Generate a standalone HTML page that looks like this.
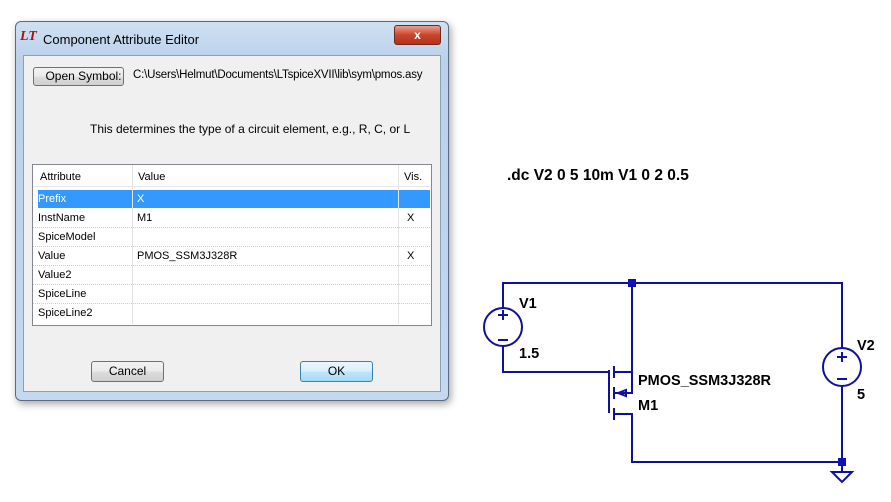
<!DOCTYPE html>
<html><head><style>
body{margin:0;width:891px;height:502px;background:#fff;position:relative;overflow:hidden;font-family:"Liberation Sans",sans-serif;}
.a{position:absolute}
.dlg{left:15px;top:21px;width:432px;height:378px;background:linear-gradient(#cfe0f2,#b9d1ea 40px,#c4d8ee);border:1px solid #5a6a80;border-radius:6px;box-shadow:2px 3px 8px rgba(0,0,0,.35)}
.cl{left:23px;top:55px;width:416px;height:335px;background:#f0f0f0;border:1px solid #8aa0b8}
.btn{border:1px solid #707070;border-radius:3px;background:linear-gradient(#f2f2f2,#ebebeb 50%,#dddddd 51%,#cfcfcf);font-size:12px;text-align:center;color:#000}
.t{font-size:11px;color:#000;white-space:nowrap}
.row{position:absolute;left:0;width:397px;height:19px;border-bottom:1px dotted #ccc}
</style></head><body>
<div class="a dlg"></div>
<div class="a" style="left:20px;top:29px;font:italic bold 14px 'Liberation Serif',serif;color:#b01010">LT</div>
<div class="a t" style="left:43px;top:32px;font-size:13px">Component Attribute Editor</div>
<div class="a" style="left:394px;top:25px;width:45px;height:18px;border:1px solid #6b2a20;border-radius:3px;background:linear-gradient(#e8a090,#c9462c 50%,#b8301a);color:#fff;font-weight:bold;font-size:12px;text-align:center;line-height:18px">x</div>
<div class="a cl"></div>
<div class="a btn" style="left:33px;top:67px;width:89px;height:17px;line-height:17px">&nbsp;&nbsp;&nbsp;Open Symbol:</div>
<div class="a t" style="left:133px;top:69px;font-size:11.5px;letter-spacing:-0.2px">C:\Users\Helmut\Documents\LTspiceXVII\lib\sym\pmos.asy</div>
<div class="a t" style="left:90px;top:122px;font-size:12px">This determines the type of a circuit element, e.g., R, C, or L</div>
<div class="a" style="left:32px;top:164px;width:398px;height:160px;background:#fff;border:1px solid #828790">
 <div class="row" style="top:0;height:21px;border-bottom:1px solid #e5e5e5"></div>
 <div class="a t" style="left:7px;top:6px">Attribute</div><div class="a t" style="left:105px;top:6px">Value</div><div class="a t" style="left:371px;top:6px">Vis.</div>
 <div class="a" style="left:5px;top:25px;width:392px;height:18px;background:#3399ff"></div>
 <div class="a t" style="left:5px;top:28px;color:#fff">Prefix</div><div class="a t" style="left:104px;top:28px;color:#fff">X</div>
 <div class="row" style="top:43px"></div><div class="a t" style="left:5px;top:47px">InstName</div><div class="a t" style="left:104px;top:47px">M1</div><div class="a t" style="left:374px;top:47px">X</div>
 <div class="row" style="top:62px"></div><div class="a t" style="left:5px;top:66px">SpiceModel</div>
 <div class="row" style="top:81px"></div><div class="a t" style="left:5px;top:85px">Value</div><div class="a t" style="left:104px;top:85px">PMOS_SSM3J328R</div><div class="a t" style="left:374px;top:85px">X</div>
 <div class="row" style="top:100px"></div><div class="a t" style="left:5px;top:104px">Value2</div>
 <div class="row" style="top:119px"></div><div class="a t" style="left:5px;top:123px">SpiceLine</div>
 <div class="row" style="top:138px;border:none"></div><div class="a t" style="left:5px;top:142px">SpiceLine2</div>
 <div class="a" style="left:99px;top:0;width:1px;height:159px;background:#e5e5e5"></div>
 <div class="a" style="left:365px;top:0;width:1px;height:159px;background:#e5e5e5"></div>
</div>
<div class="a btn" style="left:91px;top:361px;width:71px;height:19px;line-height:19px">Cancel</div>
<div class="a btn" style="left:300px;top:361px;width:71px;height:19px;line-height:19px;border-color:#3c7fb1;background:linear-gradient(#eaf6fd,#d9f0fc 50%,#bee6fd 51%,#a7d9f5)">OK</div>

<svg class="a" style="left:0;top:0" width="891" height="502">
<g fill="none" stroke="#1010a0" stroke-width="2">
<polyline points="503,308 503,283 842,283 842,348"/>
<polyline points="842,386 842,462 632,462 632,414 614,414"/>
<polyline points="632,283 632,372 614,372"/>
<polyline points="503,346 503,372 609,372"/>
<line x1="609" y1="370" x2="609" y2="413"/>
<line x1="614" y1="366" x2="614" y2="378"/><line x1="614" y1="387" x2="614" y2="399"/><line x1="614" y1="408" x2="614" y2="420"/>
<polyline points="614,393 632,393 632,372"/>
<polygon points="618,393 626,390 626,396"/>
<circle cx="503" cy="327" r="19"/><circle cx="842" cy="367" r="19"/>
<line x1="498" y1="315" x2="508" y2="315"/><line x1="503" y1="310" x2="503" y2="320"/><line x1="498" y1="340" x2="508" y2="340"/>
<line x1="837" y1="357" x2="847" y2="357"/><line x1="842" y1="352" x2="842" y2="362"/><line x1="837" y1="379" x2="847" y2="379"/>
<polyline points="842,462 842,472"/>
<polygon points="832,472 852,472 842,482"/>
</g>
<rect x="628" y="279" width="8" height="8" fill="#1010c0"/><rect x="838" y="458" width="8" height="8" fill="#1010c0"/>
<g font-family="Liberation Sans,sans-serif" font-weight="bold" font-size="14.5" fill="#000">
<text x="507" y="180" font-size="15.5">.dc V2 0 5 10m V1 0 2 0.5</text>
<text x="519" y="308">V1</text><text x="519" y="358">1.5</text>
<text x="638" y="385">PMOS_SSM3J328R</text><text x="638" y="410">M1</text>
<text x="857" y="350">V2</text><text x="857" y="399">5</text>
</g>
</svg>
</body></html>
